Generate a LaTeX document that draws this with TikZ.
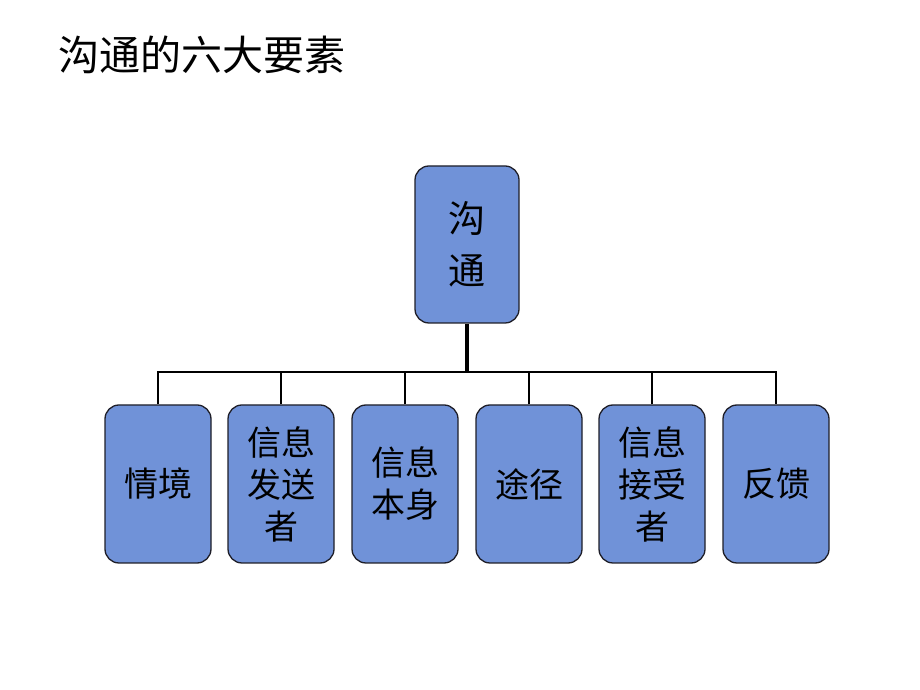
\documentclass[tikz,border=0pt]{standalone}
\usepackage{fontspec}
\newfontfamily\cjk{Noto Sans CJK SC}
\usetikzlibrary{positioning}
\definecolor{BoxBlue}{RGB}{112,146,216}
\definecolor{BoxEdge}{RGB}{30,30,40}

\begin{document}
\begin{tikzpicture}[x=1pt,y=1pt,
    elem/.style={draw=BoxEdge,line width=1.3pt,fill=BoxBlue,rounded corners=14pt,
      minimum width=106pt,minimum height=158pt,inner sep=0pt,align=center,
      font=\cjk\fontsize{34}{42}\selectfont},
    link/.style={line width=2.6pt,black}]
      \useasboundingbox (0,0) rectangle (920,690);
      \node[anchor=west,font=\cjk\fontsize{41}{46}\selectfont] (title) at (55,635) {沟通的六大要素};
      \node[elem,minimum width=104pt,minimum height=157pt,font=\cjk\fontsize{37}{52}\selectfont] (gt) at (467,445.5) {沟\\通};
      \coordinate (hub) at (467,318);
      \node[elem] (qj) at (158,206) {情境};
      \node[elem] (fsz) at (281,206) {信息\\发送\\者};
      \node[elem] (bs) at (405,206) {信息\\本身};
      \node[elem] (tj) at (529,206) {途径};
      \node[elem] (jsz) at (652,206) {信息\\接受\\者};
      \node[elem] (fk) at (776,206) {反馈};
      \draw[link,line width=3.8pt] (gt.south) -- (hub);
      \draw[link] (qj.north) |- (hub) -| (fk.north);
      \foreach \n in {fsz,bs,tj,jsz}
        \draw[link] (\n.north) -- (\n.north |- hub);
    \end{tikzpicture}
\end{document}
